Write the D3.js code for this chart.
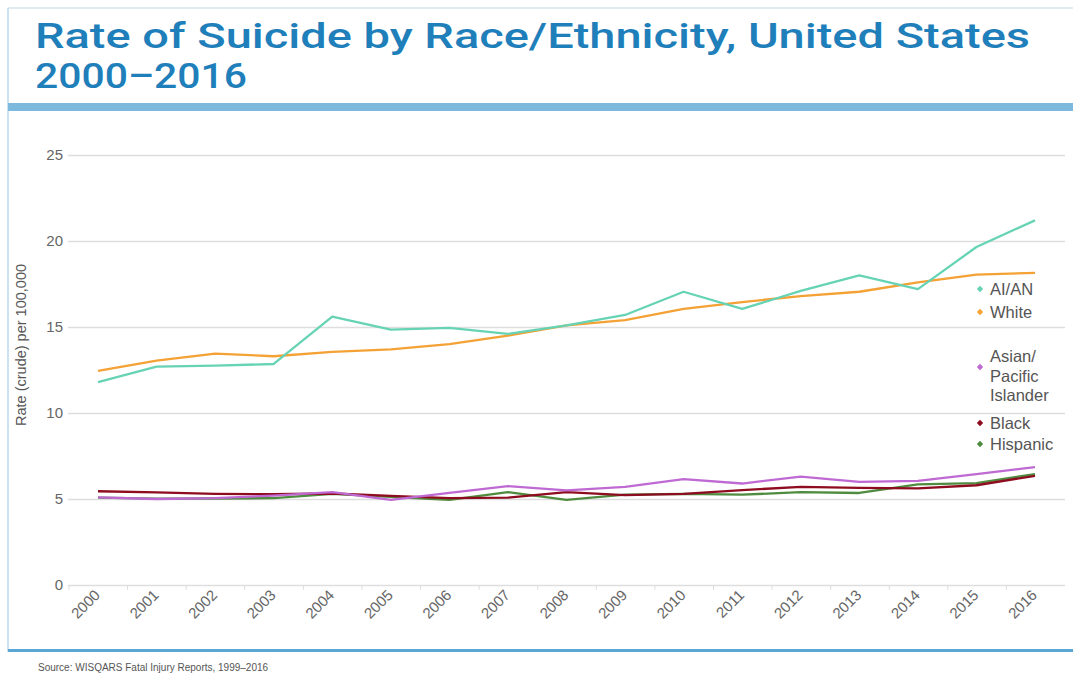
<!DOCTYPE html>
<html><head><meta charset="utf-8">
<script src="https://cdn.jsdelivr.net/npm/d3@7"></script>
<style>body{margin:0;background:#fff;}svg{display:block;font-family:"Liberation Sans",Arial,Helvetica,sans-serif;}</style>
</head><body><svg id="c" width="1073" height="682"></svg>
<script>
const years = ["2000","2001","2002","2003","2004","2005","2006","2007","2008","2009","2010","2011","2012","2013","2014","2015","2016"];
const aian     = [11.8,12.7,12.75,12.85,15.6,14.85,14.95,14.6,15.1,15.7,17.05,16.05,17.1,18.0,17.2,19.65,21.2];
const white    = [12.45,13.05,13.45,13.3,13.55,13.7,14.0,14.5,15.1,15.4,16.05,16.45,16.8,17.05,17.6,18.05,18.15];
const asianPI  = [5.1,5.0,5.05,5.2,5.4,4.95,5.35,5.75,5.5,5.7,6.15,5.9,6.3,6.0,6.05,6.45,6.85];
const black    = [5.45,5.38,5.3,5.28,5.32,5.18,5.05,5.08,5.4,5.22,5.3,5.52,5.7,5.65,5.62,5.8,6.35];
const hispanic = [5.08,5.02,5.03,5.05,5.3,5.12,4.95,5.4,4.95,5.25,5.3,5.25,5.4,5.35,5.85,5.92,6.45];
const yTicks = [0,5,10,15,20,25];
const seriesNames = ["AI/AN","White","Asian/Pacific Islander","Black","Hispanic"];
const seriesColors = ["#66d3b4","#f4a135","#bf6ad3","#8e0c1f","#4f8c3f"];
const seriesData = [aian, white, asianPI, black, hispanic];

const svg = d3.select("#c");
// frame
svg.append("line").attr("x1",8).attr("x2",1073).attr("y1",8).attr("y2",8).attr("stroke","#d6e6f0").attr("stroke-width",1.5);
svg.append("line").attr("x1",8).attr("x2",8).attr("y1",8).attr("y2",652).attr("stroke","#bcd9ec").attr("stroke-width",1.5);
svg.append("rect").attr("x",8).attr("y",103).attr("width",1065).attr("height",8).attr("fill","#7db9dd");
svg.append("rect").attr("x",8).attr("y",649).attr("width",1065).attr("height",3).attr("fill","#5aa7d6");

// title
const tAttrs = {fill:"#1f7fba","font-size":35,"font-weight":500,"font-family":"Roboto, Liberation Sans, Arial, sans-serif","lengthAdjust":"spacingAndGlyphs"};
const t1 = svg.append("text").attr("x",35).attr("y",48).attr("textLength",995).text("Rate of Suicide by Race/Ethnicity, United States");
const t2 = svg.append("text").attr("x",35).attr("y",88).attr("textLength",212).text("2000–2016");
[t1,t2].forEach(t=>Object.entries(tAttrs).forEach(([k,v])=>t.attr(k,v)));

svg.append("text").attr("x",38).attr("y",671).attr("font-size",10).attr("fill","#555")
  .text("Source: WISQARS Fatal Injury Reports, 1999–2016");

const x = d3.scalePoint().domain(years).range([98,1035]);
const xBand = d3.scaleBand().domain(years).range([69,1065]);
const y = d3.scaleLinear().domain([0,25]).range([585,155]);

// grid
const gy = svg.append("g").attr("transform","translate(68,0)")
  .call(d3.axisLeft(y).tickValues(yTicks).tickSize(-997).tickPadding(5).tickFormat(d3.format("d")));
gy.select(".domain").remove();
gy.selectAll(".tick line").attr("stroke","#dedede").attr("stroke-width",1.3);
gy.selectAll(".tick text").attr("fill","#666").attr("font-size",15).attr("font-family","Liberation Sans, Arial, sans-serif");

// x axis tick marks at band boundaries
const gx = svg.append("g").attr("transform","translate(0,585)");
gx.selectAll("line.tk").data(years).enter().append("line").attr("class","tk")
  .attr("x1",d=>xBand(d)).attr("x2",d=>xBand(d)).attr("y1",0).attr("y2",5).attr("stroke","#ddd");
gx.selectAll("text").data(years).enter().append("text")
  .attr("transform",d=>`translate(${x(d)+3},${11}) rotate(-45)`)
  .attr("text-anchor","end").attr("font-size",15).attr("fill","#666").text(d=>d);

// y title
svg.append("text").attr("transform","translate(26,345) rotate(-90)").attr("text-anchor","middle")
  .attr("font-size",14.5).attr("fill","#555").text("Rate (crude) per 100,000");

// lines
const line = d3.line().x((d,i)=>x(years[i])).y(d=>y(d));
const order = [4,3,2,1,0];
order.forEach(k=>{
  svg.append("path").datum(seriesData[k]).attr("d",line).attr("fill","none")
    .attr("stroke",seriesColors[k]).attr("stroke-width",2.3).attr("stroke-linejoin","round");
});

// legend
const legendY = [289,312,367,423,444];
const lg = svg.append("g");
seriesNames.forEach((n,i)=>{
  const g = lg.append("g").attr("transform",`translate(980,${legendY[i]})`);
  g.append("path").attr("d",d3.symbol(d3.symbolDiamond2,26)()).attr("fill",seriesColors[i]);
  const t = g.append("text").attr("x",10).attr("y",6).attr("font-size",16.5).attr("fill","#555");
  if(n==="Asian/Pacific Islander"){
    ["Asian/","Pacific","Islander"].forEach((s,j)=>t.append("tspan").attr("x",10).attr("dy",j===0?0:19.5).text(s));
    t.attr("y",-5);
  } else t.text(n);
});
</script></body></html>
